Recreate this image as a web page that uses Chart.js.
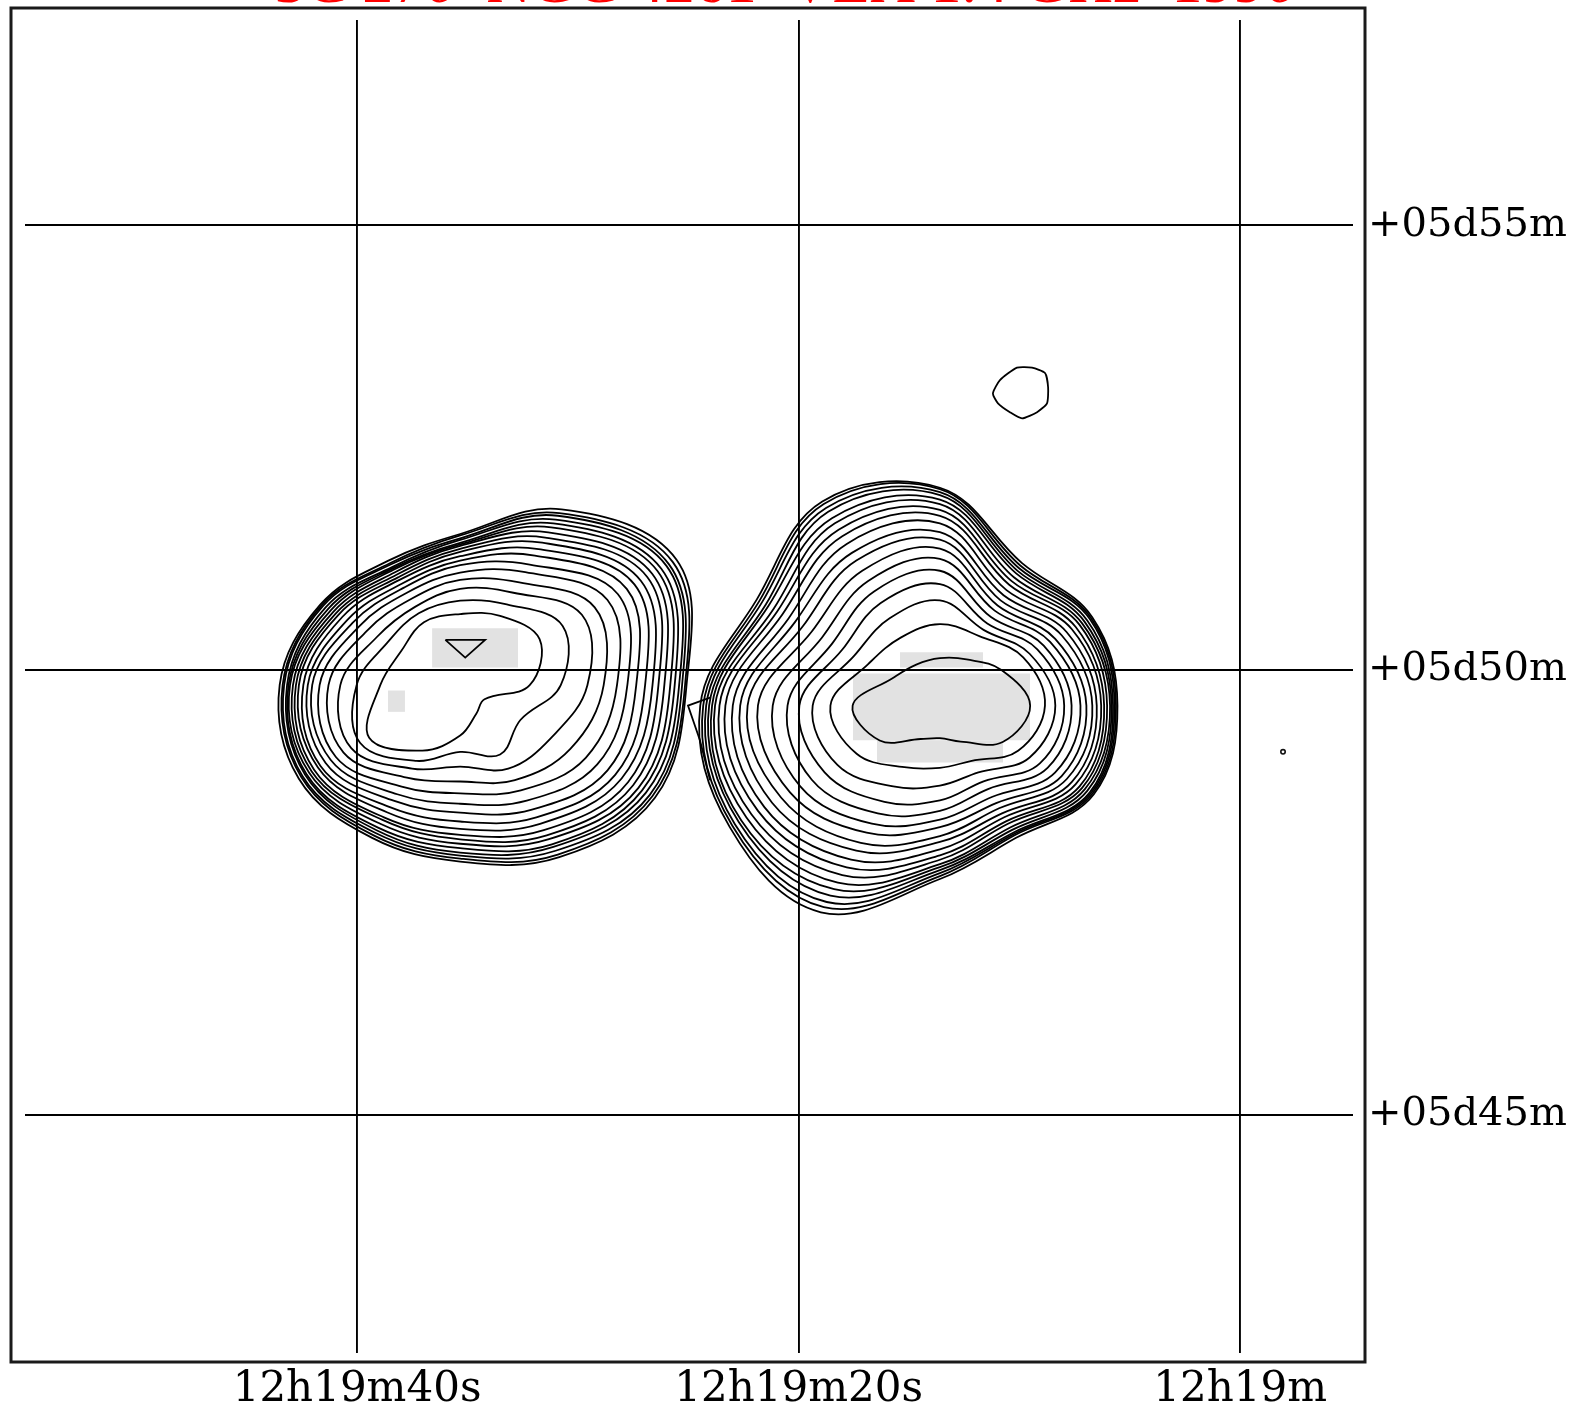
<!DOCTYPE html>
<html><head><meta charset="utf-8">
<script src="https://cdn.jsdelivr.net/npm/chart.js@4.4.1/dist/chart.umd.min.js"></script>
<style>html,body{margin:0;padding:0;background:#fff;}#wrap{width:1577px;height:1408px;position:relative;}</style>
</head><body><div id="wrap"><canvas id="c"></canvas></div>
<script>
// ---- chart text ----
const titleText = '3C 270  NGC 4261  VLA 1.4 GHz  1990';
// ---- axes (RA in seconds past 12h19m, Dec in arcmin past +05d) ----
const xTickValues = [40, 20, 0];
const xTickLabels = ['12h19m40s', '12h19m20s', '12h19m'];
const yTickValues = [55, 50, 45];
const yTickLabels = ['+05d55m', '+05d50m', '+05d45m'];
const raRange = [-5.11, 55.04];
const decRange = [42.32, 57.31];

// ---- contour data: lobes described by radii (arcsec) along rays, outer -> inner level ----
const rayAnglesDeg = [0, 30, 60, 90, 120, 150, 180, 210, 240, 270, 300, 330];
const westLobeCenter = [35.33, 49.83];   // [RA s, Dec arcmin]
const westLobeRadii = [
  [153,152,150,148,145,142,138,134,130,125,119,113,106,97,86,68,47],
  [169,166,163,161,157,154,150,146,141,136,130,123,115,105,95,80,62],
  [137,134,132,129,126,123,119,115,111,106,101,94,88,80,72,63,54],
  [102,101,99,98,96,95,94,92,90,87,84,81,76,71,65,57,48],
  [97,95,94,92,91,90,88,86,84,82,79,76,72,67,61,56,49],
  [109,108,107,105,103,101,99,97,95,92,88,84,79,73,65,57,46],
  [122,120,119,117,116,115,113,111,109,106,103,100,95,89,81,70,54],
  [126,124,123,121,120,118,116,114,111,109,105,101,97,91,85,78,71],
  [119,117,115,113,111,108,105,103,99,95,90,85,79,72,65,59,51],
  [119,117,115,113,110,107,104,101,97,92,86,80,73,65,55,45,34],
  [134,132,129,126,124,120,117,113,108,103,97,90,82,74,65,54,22],
  [152,150,148,145,142,139,135,131,126,121,115,107,98,86,71,47,19]
];
const eastLobeCenter = [13.60, 49.60];
const eastLobeRadii = [
  [120,119,118,117,116,115,113,111,109,106,103,99,95,89,84,78,71,61],
  [119,118,117,115,113,111,109,106,103,99,95,90,86,81,76,70,65,48],
  [111,109,107,105,103,100,97,94,90,86,82,78,74,69,64,59,54,36],
  [147,146,144,142,139,136,132,128,123,117,112,106,99,91,82,71,55,32],
  [159,157,154,151,146,142,137,132,126,119,113,105,97,89,80,68,53,32],
  [143,141,139,136,134,130,127,123,118,113,107,100,92,84,76,67,56,37],
  [162,160,158,156,154,152,149,145,140,135,130,123,113,103,95,86,74,59],
  [164,162,160,157,155,151,147,142,137,131,124,117,109,100,90,80,65,47],
  [161,157,153,148,143,138,132,126,120,113,107,99,92,84,75,63,48,26],
  [117,115,113,111,109,107,104,101,97,92,88,82,77,71,64,54,42,22],
  [103,101,100,99,97,95,92,90,87,84,80,76,71,65,59,52,43,28],
  [120,119,118,117,115,113,111,109,106,103,99,95,90,84,78,70,61,49]
];
// small separate contours, [RA s, Dec arcmin]
const peakTriangle = [[36.0,50.34],[34.2,50.34],[35.1,50.14]];
const northSource = [[11.20,53.11],[10.88,53.26],[10.11,53.40],[9.43,53.40],[8.84,53.34],[8.70,53.18],[8.75,53.00],[9.20,52.90],[9.88,52.83],[10.43,52.90],[10.97,53.00]];
const bridgeLine = [[24.01,49.69],[25.01,49.60],[24.47,49.21],[24.01,48.76]];
const faintSpot = [[-1.94, 49.08]];
// grey image pixels: [RA left, RA right, Dec bottom, Dec top]
const greyPatches = [
  [36.60, 32.71, 50.03, 50.47],
  [38.60, 37.83, 49.53, 49.77],
  [15.41, 11.65, 50.03, 50.20],
  [17.54, 9.52, 49.21, 49.96],
  [16.45, 10.74, 48.96, 49.21]
];

// ---- build datasets ----
function lobeLevels(center, radii) {
  const levels = radii[0].length;
  const cosd = Math.cos((5 + center[1] / 60) * Math.PI / 180);
  const res = [];
  for (let k = 0; k < levels; k++) {
    res.push(rayAnglesDeg.map((a, i) => {
      const t = a * Math.PI / 180, r = radii[i][k];
      return {x: center[0] - r * Math.cos(t) / (15 * cosd), y: center[1] + r * Math.sin(t) / 60};
    }));
  }
  return res;
}
const LINE = '#000';
const LW = 1.8;
function smoothClosed(pts, tension) {
  const n = pts.length;
  const data = [pts[n - 1], ...pts, pts[0], pts[1]];
  const last = data.length - 1;
  return {
    data, showLine: true, pointRadius: 0, borderWidth: LW, borderColor: LINE, tension, fill: false,
    segment: {borderColor: c => (c.p0DataIndex === 0 || c.p1DataIndex === last) ? 'rgba(0,0,0,0)' : LINE}
  };
}
function polyline(arr, closed) {
  const d = arr.map(p => ({x: p[0], y: p[1]}));
  if (closed) d.push(d[0]);
  return {data: d, showLine: true, pointRadius: 0, borderWidth: LW, borderColor: LINE, tension: 0, fill: false};
}
const datasets = [];
lobeLevels(westLobeCenter, westLobeRadii).forEach(p => datasets.push(smoothClosed(p, 0.38)));
lobeLevels(eastLobeCenter, eastLobeRadii).forEach(p => datasets.push(smoothClosed(p, 0.38)));
datasets.push(polyline(peakTriangle, true));
datasets.push(smoothClosed(northSource.map(p => ({x: p[0], y: p[1]})), 0.2));
datasets.push(polyline(bridgeLine, false));
datasets.push({data: faintSpot.map(p => ({x: p[0], y: p[1]})), pointRadius: 2.2, borderWidth: 1.6, borderColor: '#111', backgroundColor: '#fff', showLine: false});
greyPatches.forEach(g => {
  datasets.push({data: [{x: g[0], y: g[3]}, {x: g[1], y: g[3]}], showLine: true, pointRadius: 0, borderWidth: 0,
    borderColor: 'rgba(0,0,0,0)', backgroundColor: 'rgb(226,226,226)', fill: '+1', order: 10});
  datasets.push({data: [{x: g[0], y: g[2]}, {x: g[1], y: g[2]}], showLine: true, pointRadius: 0, borderWidth: 0,
    borderColor: 'rgba(0,0,0,0)', fill: false, order: 10});
});

const framePlugin = {
  id: 'frame',
  afterDraw(chart) {
    const ctx = chart.ctx, a = chart.chartArea;
    ctx.save();
    ctx.strokeStyle = '#1a1a1a';
    ctx.lineWidth = 3;
    ctx.strokeRect(a.left - 14, a.top - 12, (a.right + 12) - (a.left - 14), (a.bottom + 9) - (a.top - 12));
    ctx.fillStyle = '#ff0000';
    ctx.font = '62px "Liberation Serif"';
    ctx.textAlign = 'center';
    ctx.textBaseline = 'alphabetic';
    ctx.fillText(titleText, 785, 1.5);
    ctx.restore();
  }
};

new Chart(document.getElementById('c'), {
  type: 'scatter',
  data: {datasets},
  options: {
    responsive: true, maintainAspectRatio: false, animation: false,
    layout: {autoPadding: false, padding: {left: 25, top: 20, right: 0, bottom: 0}},
    plugins: {legend: {display: false}, tooltip: {enabled: false}},
    scales: {
      x: {
        type: 'linear', reverse: true, min: raRange[0], max: raRange[1], position: 'bottom',
        afterFit: s => { s.height = 55; s.paddingLeft = 0; s.paddingRight = 0; },
        afterBuildTicks: s => { s.ticks = xTickValues.map(v => ({value: v})); },
        grid: {color: '#000', lineWidth: 1.9, drawTicks: false},
        border: {display: false},
        ticks: {font: {family: '"DejaVu Serif"', size: 42}, color: '#000', padding: 12, maxRotation: 0, autoSkip: false,
          callback: v => xTickLabels[xTickValues.indexOf(v)]}
      },
      y: {
        type: 'linear', min: decRange[0], max: decRange[1], position: 'right',
        afterFit: s => { s.width = 224; s.paddingTop = 0; s.paddingBottom = 0; },
        afterBuildTicks: s => { s.ticks = yTickValues.map(v => ({value: v})); },
        grid: {color: '#000', lineWidth: 1.9, drawTicks: false},
        border: {display: false},
        ticks: {font: {family: '"DejaVu Serif"', size: 40}, color: '#000', padding: 15, autoSkip: false,
          callback: v => yTickLabels[yTickValues.indexOf(v)]}
      }
    }
  },
  plugins: [framePlugin]
});
</script></body></html>
